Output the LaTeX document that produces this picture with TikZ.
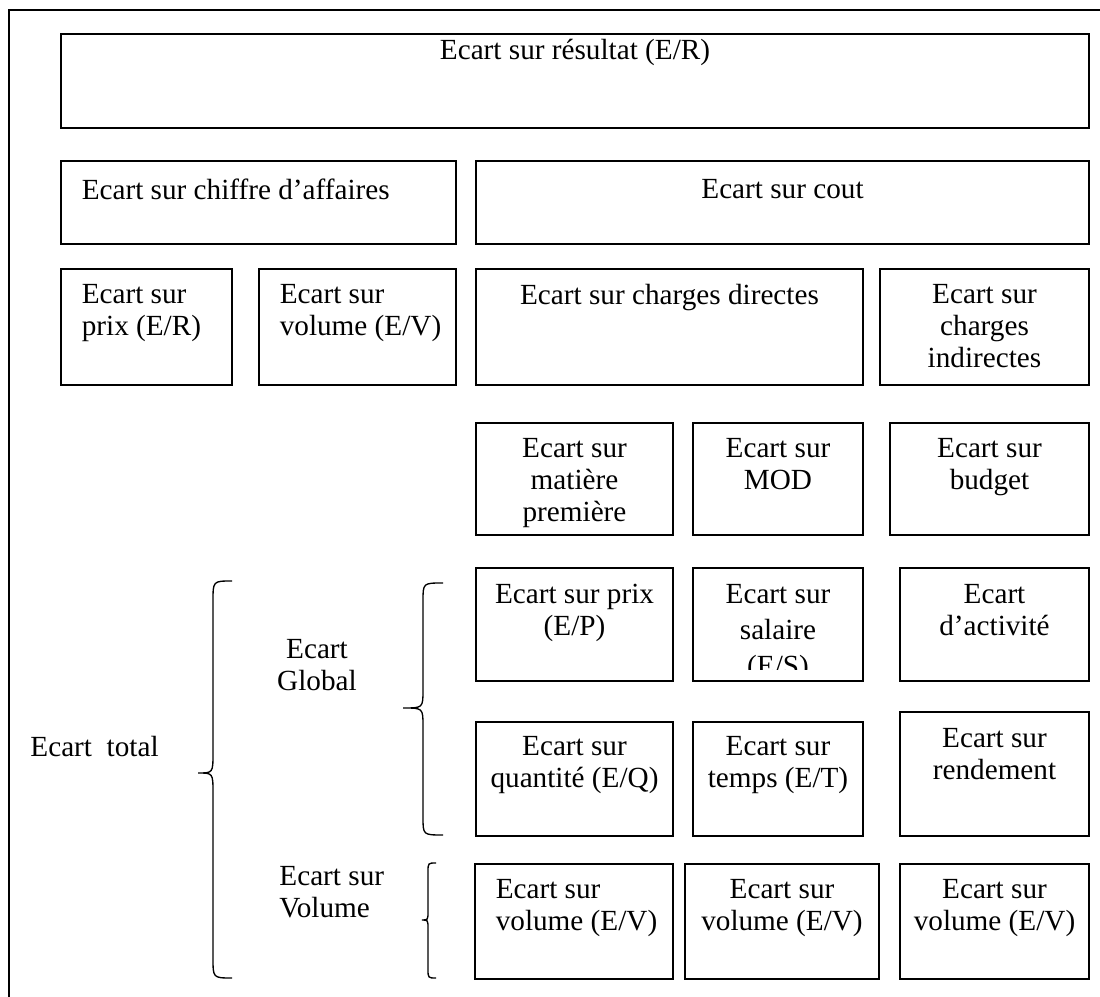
\documentclass[tikz,border=0pt]{standalone}
\usepackage{fontspec}
\setmainfont{Liberation Serif}
\usetikzlibrary{positioning}

\newcommand{\pxu}{0.445pt}

\begin{document}
\begin{tikzpicture}[
x=0.445pt, y=-0.445pt,
cell/.style={draw, line width=0.9pt, inner sep=0pt, anchor=north west},
txt/.style={align=center, inner sep=0pt, font=\fontsize{13}{14.2}\selectfont},
txtl/.style={txt, align=left},
brace/.style={line width=0.6pt}
]
\useasboundingbox (0,0) rectangle (1100,997);

% frame
\draw[line width=0.75pt] (9,997) -- (9,10) -- (1100,10);

% centred cells
\foreach \n/\x/\y/\w/\h/\d/\t in {
  res/60/33/1028/94/2.5pt/{Ecart sur résultat (E/R)},
  cout/475/160/613/83/8.3pt/{Ecart sur cout},
  cdir/475/268/387/116/7pt/{Ecart sur charges directes},
  cind/879/268/209/116/7pt/{Ecart sur\\charges\\indirectes},
  mat/475/422/197/112/7pt/{Ecart sur\\matière\\première},
  mod/692/422/170/112/7pt/{Ecart sur\\MOD},
  bud/889/422/199/112/7pt/{Ecart sur\\budget},
  prp/475/567/197/113/7.4pt/{Ecart sur prix\\(E/P)},
  act/899/567/189/113/7.4pt/{Ecart\\d’activité},
  qte/475/721/197/114/6.6pt/{Ecart sur\\quantité (E/Q)},
  tps/692/721/170/114/6.6pt/{Ecart sur\\temps (E/T)},
  rdt/899/711/189/124/7.4pt/{Ecart sur\\rendement},
  vol2/684/863/194/115/7pt/{Ecart sur\\volume (E/V)},
  vol3/899/863/189/115/7pt/{Ecart sur\\volume (E/V)}} {
  \node[cell, minimum width=\w*\pxu, minimum height=\h*\pxu] (\n) at (\x,\y) {};
  \node[txt, below=\d of \n.north] (\n-t) {\t};
}

% left aligned cells
\foreach \n/\x/\y/\w/\h/\d/\t in {
  ca/60/160/395/83/8.3pt/{Ecart sur chiffre d’affaires},
  pxr/60/268/171/116/7pt/{Ecart sur\\prix (E/R)},
  volr/258/268/197/116/7pt/{Ecart sur\\volume (E/V)},
  vol1/474/863/198/115/7pt/{Ecart sur\\volume (E/V)}} {
  \node[cell, minimum width=\w*\pxu, minimum height=\h*\pxu] (\n) at (\x,\y) {};
  \node[txtl, below right=\d and 9.5pt of \n.north west] (\n-t) {\t};
}

% salaire, text cut by the box
\node[cell, minimum width=170*\pxu, minimum height=113*\pxu] (sal) at (692,567) {};
\begin{scope}
  \clip (692,567) rectangle (862,670);
  \node[txt, font=\fontsize{13}{16}\selectfont, below=7.4pt of sal.north] (sal-t) {Ecart sur\\salaire\\(E/S)};
\end{scope}

% braces
\foreach \xe/\xs/\xt/\yt/\ym/\yb/\r in {232/213/198/581/773/978/20,
  443/423/403/583/708/835/18, 436/428/422/863/920/978/9} {
  \draw[brace] (\xe,\yt) .. controls (\xs,\yt) .. (\xs,\yt+\r) -- (\xs,\ym-\r)
    .. controls (\xs,\ym) .. (\xt,\ym) .. controls (\xs,\ym) .. (\xs,\ym+\r)
    -- (\xs,\yb-\r) .. controls (\xs,\yb) .. (\xe,\yb);
}

% brace labels
\node[txt, anchor=base west] (tot) at (30,757) {Ecart\ \ total};
\node[txt, anchor=north] (glob) at (317,639) {Ecart\\Global};
\node[txtl, anchor=north west] (volG) at (279,866) {Ecart sur\\Volume};

\end{tikzpicture}
\end{document}
